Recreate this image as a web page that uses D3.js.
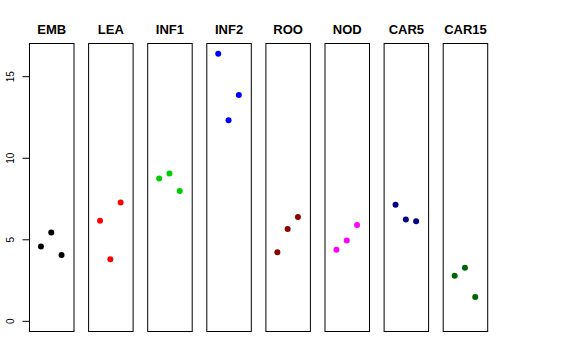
<!DOCTYPE html>
<html>
<head>
<meta charset="utf-8">
<script src="https://cdn.jsdelivr.net/npm/d3@7"></script>
<style>
  body { margin: 0; background: #fff; }
  text { font-family: "Liberation Sans", Arial, Helvetica, sans-serif; }
</style>
</head>
<body>
<div id="chart"></div>
<script>
// panel names
const groups = ["EMB", "LEA", "INF1", "INF2", "ROO", "NOD", "CAR5", "CAR15"];
// three replicate values per panel, at x = 1, 2, 3
const values = [
  [4.52, 5.38, 4.01],
  [6.11, 3.74, 7.23],
  [8.69, 9.00, 7.93],
  [16.35, 12.26, 13.81],
  [4.17, 5.60, 6.33],
  [4.33, 4.89, 5.84],
  [7.09, 6.19, 6.07],
  [2.74, 3.23, 1.43]
];
const colors = ["#000000", "#FF0000", "#00CD00", "#0000FF", "#8B0000", "#FF00FF", "#00008B", "#006400"];
const yTicks = [0, 5, 10, 15];

const width = 576, height = 360;
const plotTop = 43, plotBottom = 331;
const panelLeft = 29, panelWidth = 44.5, panelStep = 59.1;

const svg = d3.select("#chart").append("svg")
  .attr("width", width)
  .attr("height", height);

// y: ylim c(0, max) with 4% padding
const yMax = d3.max(values, v => d3.max(v));
const ySpan = yMax - 0;
const y = d3.scaleLinear()
  .domain([0 - ySpan * 0.04, yMax + ySpan * 0.04])
  .range([plotBottom, plotTop]);

// x within a panel: xlim c(0,4) with 4% padding
const x = d3.scaleLinear()
  .domain([-0.16, 4.16])
  .range([0, panelWidth]);

groups.forEach(function(name, i) {
  const g = svg.append("g")
    .attr("transform", "translate(" + (panelLeft + i * panelStep) + ",0)");

  g.selectAll("circle")
    .data(values[i])
    .enter().append("circle")
    .attr("cx", (d, j) => x(j + 1))
    .attr("cy", d => y(d))
    .attr("r", 3)
    .attr("fill", colors[i]);

  g.append("rect")
    .attr("x", 0.5)
    .attr("y", plotTop + 0.5)
    .attr("width", panelWidth)
    .attr("height", plotBottom - plotTop)
    .attr("fill", "none")
    .attr("stroke", "#000")
    .attr("stroke-width", 1);

  g.append("text")
    .attr("x", panelWidth / 2 + 0.5)
    .attr("y", 33.5)
    .attr("text-anchor", "middle")
    .attr("font-size", "13px")
    .attr("font-weight", "bold")
    .text(name);
});

// y axis on the first panel
const yAxis = d3.axisLeft(y)
  .tickValues(yTicks)
  .tickSize(7);

const axisG = svg.append("g")
  .attr("transform", "translate(" + (panelLeft + 0.5) + ",0.5)")
  .call(yAxis);
axisG.select(".domain").remove();
axisG.selectAll("line").attr("stroke", "#000");
axisG.selectAll(".tick text")
  .attr("font-size", "10px")
  .attr("fill", "#000")
  .attr("font-family", "Liberation Sans, Arial, sans-serif")
  .attr("x", 0)
  .attr("dy", 0)
  .attr("text-anchor", "middle")
  .attr("transform", "translate(-16,0) rotate(-90)");
</script>
</body>
</html>
